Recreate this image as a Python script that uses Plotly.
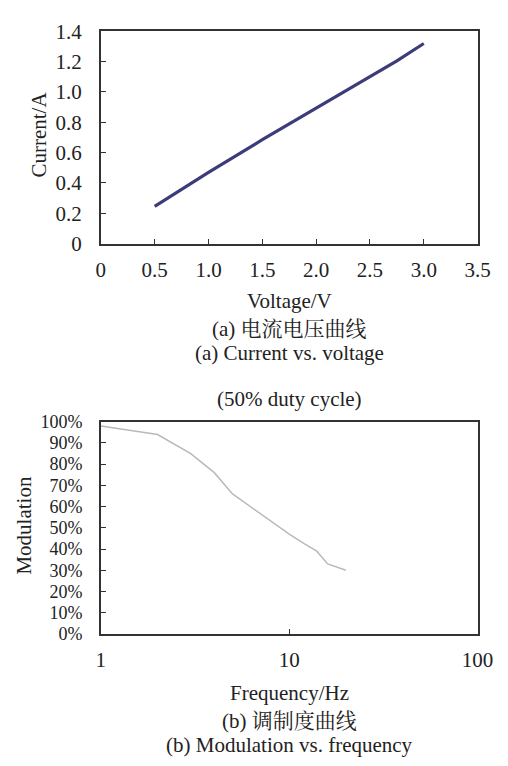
import plotly.graph_objects as go

# Data: (a) current vs voltage
voltage = [0.5, 1.0, 1.5, 2.0, 2.5, 2.75, 3.0]
current = [0.245, 0.47, 0.685, 0.895, 1.10, 1.205, 1.32]

# Data: (b) modulation vs frequency (50% duty cycle)
freq = [1, 2, 3, 4, 5, 6, 7, 8, 9, 10, 12, 14, 16, 18, 20]
modulation = [0.98, 0.94, 0.85, 0.76, 0.66, 0.61, 0.57, 0.53, 0.50, 0.47, 0.425, 0.39, 0.33, 0.315, 0.30]

x1_ticks = [0, 0.5, 1.0, 1.5, 2.0, 2.5, 3.0, 3.5]
x1_labels = ["0", "0.5", "1.0", "1.5", "2.0", "2.5", "3.0", "3.5"]
y1_ticks = [0, 0.2, 0.4, 0.6, 0.8, 1.0, 1.2, 1.4]
y1_labels = ["0", "0.2", "0.4", "0.6", "0.8", "1.0", "1.2", "1.4"]
x2_ticks = [1, 10, 100]
x2_labels = ["1", "10", "100"]
y2_ticks = [i / 10 for i in range(11)]
y2_labels = [f"{i*10}%" for i in range(11)]

W, H = 508, 766
FONT = "Liberation Serif, Times New Roman, serif"
CJK = "Liberation Serif, Noto Serif CJK SC, Noto Sans CJK SC, serif"
TXT = "#222222"
FS = 21


def px(x):
    return x / W


def py(y):
    return 1 - y / H


fig = go.Figure()
fig.add_trace(go.Scatter(x=voltage, y=current, mode="lines",
                         line=dict(color="#3d3c7a", width=3.2), xaxis="x", yaxis="y",
                         showlegend=False, hoverinfo="skip"))
fig.add_trace(go.Scatter(x=freq, y=modulation, mode="lines",
                         line=dict(color="#b4bcb8", width=1.5), xaxis="x2", yaxis="y2",
                         showlegend=False, hoverinfo="skip"))

xd = [px(100), px(493)]
ax_common = dict(showline=True, linecolor="#333333", linewidth=1.6, mirror=True,
                 showgrid=False, zeroline=False,
                 ticks="inside", ticklen=5, tickcolor="#333333", tickwidth=1)

fig.update_layout(
    width=W, height=H,
    margin=dict(l=0, r=0, t=0, b=0),
    paper_bgcolor="white", plot_bgcolor="white",
    xaxis=dict(domain=xd, anchor="y", range=[0, 3.5], tickvals=x1_ticks, ticktext=x1_labels,
               ticklabelstandoff=6, tickfont=dict(family=FONT, size=FS, color=TXT), **ax_common),
    yaxis=dict(domain=[py(239), py(20)], anchor="x", range=[0, 1.4],
               tickvals=y1_ticks, ticktext=y1_labels, ticklabelstandoff=13,
               tickfont=dict(family=FONT, size=FS, color=TXT), **ax_common),
    xaxis2=dict(domain=xd, anchor="y2", type="log", range=[0, 2], tickvals=x2_ticks,
                ticktext=x2_labels, ticklabelstandoff=6,
                tickfont=dict(family=FONT, size=FS, color=TXT), **ax_common),
    yaxis2=dict(domain=[py(642), py(423)], anchor="x2", range=[0, 1.0],
                tickvals=y2_ticks, ticktext=y2_labels, ticklabelstandoff=13,
                tickfont=dict(family=FONT, size=18, color=TXT), **ax_common),
)


def ann(text, xpx, ypx, size=FS, angle=0, fam=FONT):
    fig.add_annotation(text=text, x=px(xpx), y=py(ypx), xref="paper", yref="paper",
                       showarrow=False, textangle=angle, xanchor="center", yanchor="middle",
                       font=dict(family=fam, size=size, color=TXT))


ann("Current/A", 36, 127, angle=-90)
ann("Voltage/V", 297, 298)
ann("(a) 电流电压曲线", 297, 327, fam=CJK)
ann("(a) Current vs. voltage", 297, 352)
ann("(50% duty cycle)", 297, 400)
ann("Modulation", 20, 530, angle=-90)
ann("Frequency/Hz", 297, 703)
ann("(b) 调制度曲线", 297, 732, fam=CJK)
ann("(b) Modulation vs. frequency", 297, 757)

fig.write_html(
    "out.html",
    config={"displayModeBar": False},
    post_script="document.body.style.margin='0';document.documentElement.style.overflow='hidden';",
)
